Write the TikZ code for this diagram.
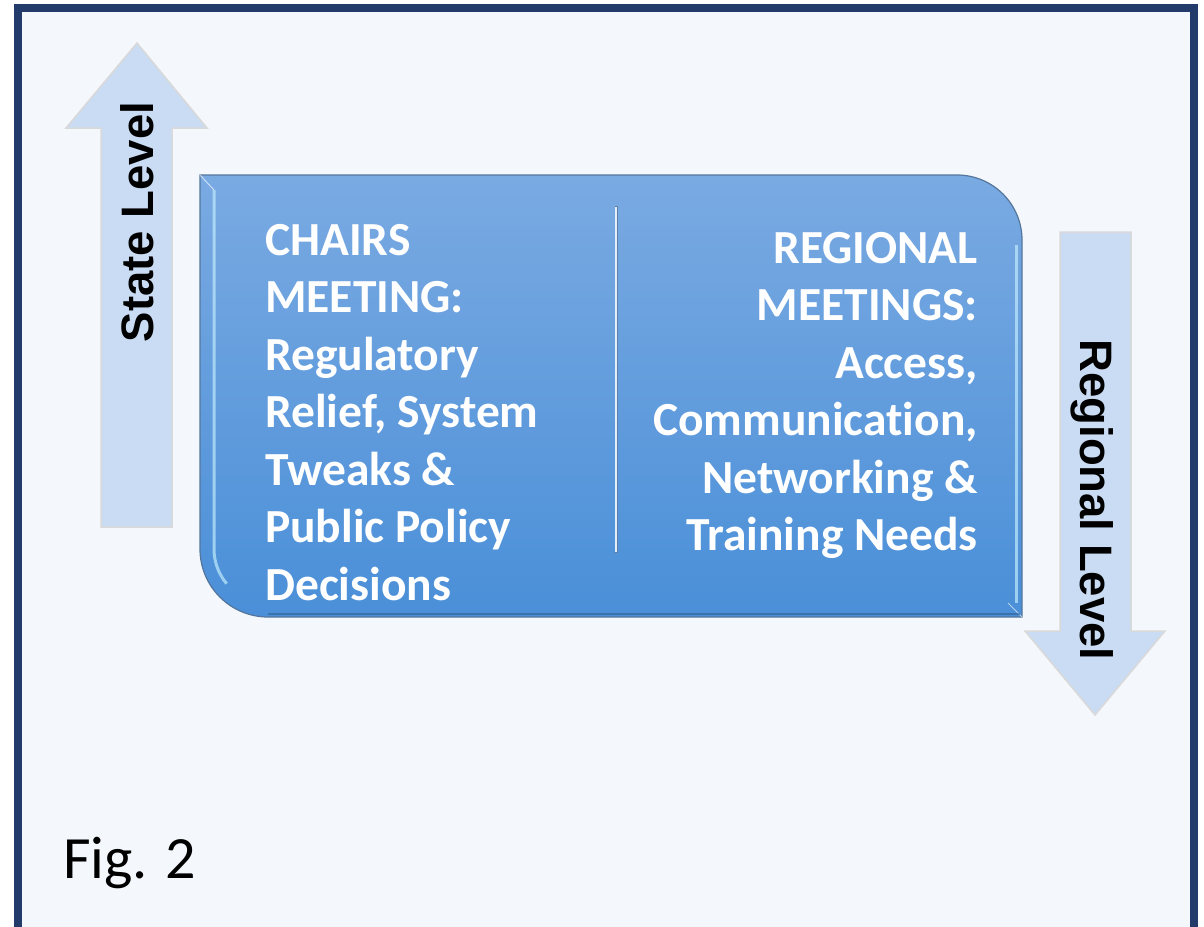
\documentclass[tikz,border=0pt]{standalone}
\usepackage{fontspec}
\setmainfont[Ligatures=NoCommon]{Carlito}
\newfontfamily\arrowfont{Liberation Sans}
\usetikzlibrary{positioning}

\definecolor{framecol}{RGB}{35,59,107}
\definecolor{pagecol}{RGB}{244,248,252}
\definecolor{arrowcol}{RGB}{201,220,243}
\definecolor{boxtop}{RGB}{122,170,226}
\definecolor{boxbottom}{RGB}{74,143,216}
\definecolor{boxedge}{RGB}{84,118,156}

\begin{document}
\begin{tikzpicture}[
  x=1pt, y=1pt,
  lvlarrow/.style={fill=arrowcol, draw=black!15, line width=1.5pt, line join=miter},
  lvltext/.style={font=\arrowfont\fontsize{45.5}{45.5}\selectfont\bfseries, inner sep=0pt},
  boxtext/.style={font=\fontsize{47.5}{57.5}\selectfont\bfseries, text=white, inner sep=0pt}
  ]
% Rahmen
  \useasboundingbox (0,0) rectangle (1204,-926);
  \clip (0,0) rectangle (1204,-926);
  \fill[white] (0,0) rectangle (1204,-926);
  \draw[fill=pagecol, draw=framecol, line width=8pt] (18,-8) rectangle (1194,-960);
% Pfeil nach oben
  \draw[lvlarrow] (137,-43) -- (207,-128) -- (172,-128) -- (172,-527)
    -- (101,-527) -- (101,-128) -- (66,-128) -- cycle;
  \node[lvltext, rotate=90, anchor=base] (state) at (153,-222) {State Level};
% Pfeil nach unten
  \draw[lvlarrow] (1060,-232) -- (1131,-232) -- (1131,-631) -- (1165,-631)
    -- (1095,-715) -- (1025,-631) -- (1060,-631) -- cycle;
  \node[lvltext, rotate=-90, anchor=base] (regional) at (1080,-500) {Regional Level};
% Kasten
  \shade[top color=boxtop, bottom color=boxbottom, draw=boxedge, line width=1.2pt]
    (200,-175) -- (957,-175) arc[start angle=90, end angle=0, radius=65]
    -- (1022,-617) -- (268,-617) arc[start angle=270, end angle=180, radius=68]
    -- cycle;
  \draw[cyan!25!white, line width=3pt, opacity=0.7]
    (214,-190) -- (214,-549) arc[start angle=180, end angle=220, radius=54];
  \draw[cyan!25!white, line width=3pt, opacity=0.7]
    (1016,-245) -- (1016,-603);
  \draw[white, opacity=0.6, line width=1pt] (200,-175) -- (214,-190);
  \draw[white, opacity=0.6, line width=1pt] (1022,-617) -- (1008,-603);
  \draw[boxbottom!60!black, opacity=0.5, line width=1.5pt] (268,-614) -- (1020,-614);
% Trennlinie
  \draw[black!25!boxtop, line width=3pt] (616,-206) -- (616,-553);
  \draw[white!80!boxtop, line width=1.3pt] (616,-207) -- (616,-552);
% Texte
  \node[boxtext, align=left, anchor=north west] (chairs) at (265,-224)
    {CHAIRS\\MEETING:\\Regulatory\\Relief, System\\Tweaks \&\\Public Policy\\Decisions};
  \node[boxtext, align=right, anchor=north east] (meetings) at (978,-232)
    {REGIONAL\\MEETINGS:\\Access,\\Communication,\\Networking \&\\Training Needs};
  \node[font=\fontsize{60}{60}\selectfont, inner sep=0pt, anchor=base west] (fig) at (63,-878) {Fig. 2};
\end{tikzpicture}
\end{document}
